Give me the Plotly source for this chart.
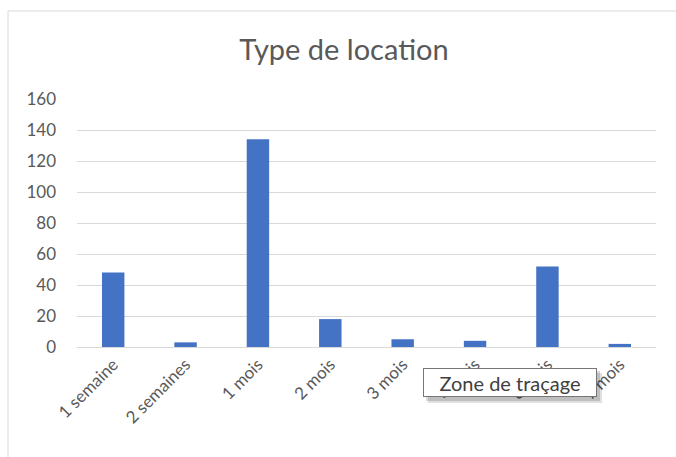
import plotly.graph_objects as go

categories = ["1 semaine", "2 semaines", "1 mois", "2 mois", "3 mois", "4 mois", "6 mois", "7 mois"]
values = [48, 3, 134, 18, 5, 4, 52, 2]
y_ticks = [0, 20, 40, 60, 80, 100, 120, 140, 160]

W, H = 676, 457
L, R, T, B = 77, 20, 99, 110
pw, ph = W - L - R, H - T - B

def px(x):
    return (x - L) / pw

def py(y):
    return (H - B - y) / ph

fig = go.Figure(go.Bar(
    x=categories, y=values,
    marker=dict(color="#4472C4", line=dict(width=0)),
    hoverinfo="skip",
))

font_main = "Lato, Open Sans, sans-serif"

fig.update_layout(
    width=W, height=H,
    margin=dict(l=L, r=R, t=T, b=B, autoexpand=False),
    paper_bgcolor="white", plot_bgcolor="white",
    bargap=0.69,
    showlegend=False,
    title=dict(text="Type de location", x=344 / W, xanchor="center",
               y=1 - 50 / H, yanchor="middle", xref="container", yref="container",
               font=dict(family=font_main, size=29, color="#595959")),
    xaxis=dict(tickangle=-45, showgrid=False, showline=True, linecolor="#d9d9d9",
               linewidth=1, ticks="", automargin=False,
               tickfont=dict(family=font_main, size=17, color="#595959")),
    yaxis=dict(range=[0, 160], tickvals=y_ticks, showgrid=True, gridcolor="#d9d9d9",
               gridwidth=1, zeroline=False, showline=False, ticks="",
               ticklabelstandoff=20, automargin=False,
               tickfont=dict(family=font_main, size=17, color="#595959")),
    shapes=[
        dict(type="rect", xref="paper", yref="paper",
             x0=px(8), x1=px(690), y0=py(470), y1=py(11),
             line=dict(color="#d9d9d9", width=1), fillcolor="rgba(0,0,0,0)", layer="below"),
        dict(type="rect", xref="paper", yref="paper",
             x0=px(428), x1=px(602), y0=py(403), y1=py(373),
             line=dict(width=0), fillcolor="rgba(0,0,0,0.12)", layer="above"),
        dict(type="rect", xref="paper", yref="paper",
             x0=px(426), x1=px(600), y0=py(401), y1=py(371),
             line=dict(width=0), fillcolor="rgba(0,0,0,0.15)", layer="above"),
    ],
    annotations=[
        dict(text="Zone de traçage", xref="paper", yref="paper",
             x=px(423), y=py(368), xanchor="left", yanchor="top",
             showarrow=False, width=168, height=23, align="center",
             bgcolor="white", bordercolor="#767676", borderwidth=1, borderpad=2,
             font=dict(family=font_main, size=20, color="#404040")),
    ],
)

fig.write_html("out.html", config={"displayModeBar": False},
               post_script="document.body.style.margin='0';")
